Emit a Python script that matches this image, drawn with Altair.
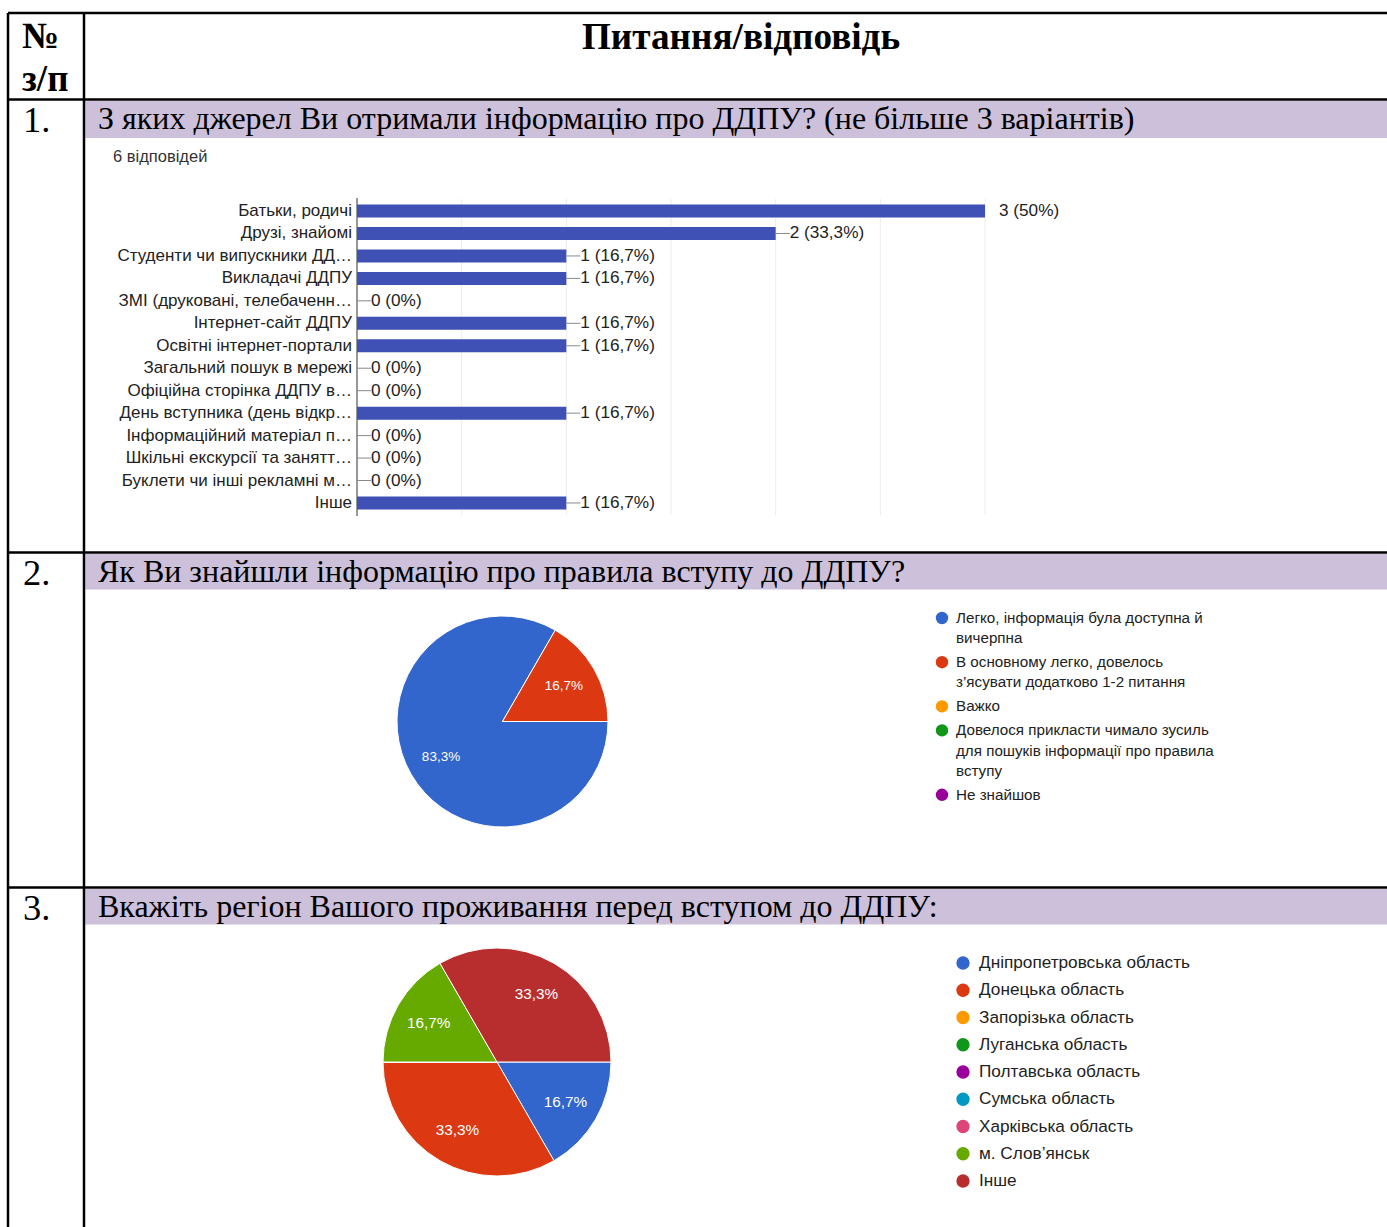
import math
import altair as alt
import pandas as pd

W, H = 1387, 1227

# ---------------- data ----------------
header_no = ["№", "з/п"]
header_title = "Питання/відповідь"
row_numbers = ["1.", "2.", "3."]
questions = [
    "З яких джерел Ви отримали інформацію про ДДПУ? (не більше 3 варіантів)",
    "Як Ви знайшли інформацію про правила вступу до ДДПУ?",
    "Вкажіть регіон Вашого проживання перед вступом до ДДПУ:",
]
q1_responses = "6 відповідей"
q1_labels = [
    "Батьки, родичі",
    "Друзі, знайомі",
    "Студенти чи випускники ДД…",
    "Викладачі ДДПУ",
    "ЗМІ (друковані, телебаченн…",
    "Інтернет-сайт ДДПУ",
    "Освітні інтернет-портали",
    "Загальний пошук в мережі",
    "Офіційна сторінка ДДПУ в…",
    "День вступника (день відкр…",
    "Інформаційний матеріал п…",
    "Шкільні екскурсії та занятт…",
    "Буклети чи інші рекламні м…",
    "Інше",
]
q1_counts = [3, 2, 1, 1, 0, 1, 1, 0, 0, 1, 0, 0, 0, 1]
q1_pcts = ["50%", "33,3%", "16,7%", "16,7%", "0%", "16,7%", "16,7%",
           "0%", "0%", "16,7%", "0%", "0%", "0%", "16,7%"]
q1_max = 3

q2_labels = [
    "Легко, інформація була доступна й\nвичерпна",
    "В основному легко, довелось\nз’ясувати додатково 1-2 питання",
    "Важко",
    "Довелося прикласти чимало зусиль\nдля пошуків інформації про правила\nвступу",
    "Не знайшов",
]
q2_counts = [5, 1, 0, 0, 0]
q2_pct = ["83,3%", "16,7%", "", "", ""]
q2_colors = ["#3366cc", "#dc3912", "#ff9900", "#109618", "#990099"]

q3_labels = [
    "Дніпропетровська область",
    "Донецька область",
    "Запорізька область",
    "Луганська область",
    "Полтавська область",
    "Сумська область",
    "Харківська область",
    "м. Слов’янськ",
    "Інше",
]
q3_counts = [1, 2, 0, 0, 0, 0, 0, 1, 2]
q3_pct = ["16,7%", "33,3%", "", "", "", "", "", "16,7%", "33,3%"]
q3_colors = ["#3366cc", "#dc3912", "#ff9900", "#109618", "#990099",
             "#0099c6", "#dd4477", "#66aa00", "#b82e2e"]

# ---------------- layout constants ----------------
LEFT, COL, TOP = 8, 84, 13
ROW_LINES = [99.5, 552.5, 887.5]
BANDS = [(101, 138), (554, 589.5), (889, 924.5)]
SERIF = "Liberation Serif"
SANS = "Liberation Sans"

cx = alt.Scale(domain=[0, W], range=[0, W], nice=False, zero=False)
cy = alt.Scale(domain=[0, H], range=[0, H], nice=False, zero=False)


def X(f):
    return alt.X(f, type="quantitative", scale=cx, axis=None)


def Y(f):
    return alt.Y(f, type="quantitative", scale=cy, axis=None)


# table
lines_df = pd.DataFrame(
    [dict(x=LEFT, y=TOP, x2=W, y2=TOP)]
    + [dict(x=LEFT, y=r, x2=W, y2=r) for r in ROW_LINES]
    + [dict(x=LEFT, y=TOP, x2=LEFT, y2=H), dict(x=COL, y=TOP, x2=COL, y2=H)]
)
bands_df = pd.DataFrame([dict(x=COL + 1.3, x2=W, y=a, y2=b) for a, b in BANDS])

bands = alt.Chart(bands_df).mark_rect(color="#ccc0da").encode(
    x=X("x"), x2="x2", y=Y("y"), y2="y2")
rules = alt.Chart(lines_df).mark_rule(color="black", strokeWidth=2.5).encode(
    x=X("x"), x2="x2", y=Y("y"), y2="y2")

hdr_df = pd.DataFrame(dict(t=header_no, x=[22, 22], y=[48, 91]))
hdr = alt.Chart(hdr_df).mark_text(font=SERIF, fontSize=37, fontWeight="bold",
                                  align="left", baseline="alphabetic", color="black").encode(
    x=X("x"), y=Y("y"), text="t:N")
ttl_df = pd.DataFrame(dict(t=[header_title], x=[741], y=[49]))
ttl = alt.Chart(ttl_df).mark_text(font=SERIF, fontSize=37.2, fontWeight="bold",
                                  align="center", baseline="alphabetic", color="black").encode(
    x=X("x"), y=Y("y"), text="t:N")

num_df = pd.DataFrame(dict(t=row_numbers, x=[23] * 3, y=[b[0] + 31 for b in BANDS]))
nums = alt.Chart(num_df).mark_text(font=SERIF, fontSize=36.5, align="left",
                                   baseline="alphabetic", color="black").encode(
    x=X("x"), y=Y("y"), text="t:N")
q_df = pd.DataFrame(dict(t=questions, x=[98] * 3, y=[b[0] + 28 for b in BANDS]))
qs = alt.Chart(q_df).mark_text(font=SERIF, fontSize=32, align="left",
                               baseline="alphabetic", color="black").encode(
    x=X("x"), y=Y("y"), text="t:N")

resp_df = pd.DataFrame(dict(t=[q1_responses], x=[113], y=[157]))
resp = alt.Chart(resp_df).mark_text(font=SANS, fontSize=16.5, align="left",
                                    baseline="middle", color="#333333").encode(
    x=X("x"), y=Y("y"), text="t:N")

# ---------------- bar chart (Q1) ----------------
bx = alt.Scale(domain=[0, q1_max], range=[357, 985], nice=False, zero=False)
by = alt.Scale(type="band", domain=q1_labels, range=[199.8, 514.2],
               paddingInner=0.42, paddingOuter=0.21)

q1 = pd.DataFrame(dict(label=q1_labels, count=q1_counts, pct=q1_pcts))
q1["vtext"] = [f"{c} ({p})" for c, p in zip(q1_counts, q1_pcts)]
q1["leader"] = [1 if c < q1_max else 0 for c in q1_counts]

grid_df = pd.DataFrame(dict(v=[i * 0.5 for i in range(1, 2 * q1_max + 1)]))
grid = alt.Chart(grid_df).mark_rule(color="#ececec", strokeWidth=1).encode(
    x=alt.X("v:Q", scale=bx, axis=None), y=alt.value(199), y2=alt.value(515))
axis_df = pd.DataFrame(dict(v=[0]))
axis0 = alt.Chart(axis_df).mark_rule(color="#333333", strokeWidth=1).encode(
    x=alt.X("v:Q", scale=bx, axis=None), y=alt.value(198), y2=alt.value(516))

bars = alt.Chart(q1).mark_bar(color="#3f51b5").encode(
    x=alt.X("count:Q", scale=bx, axis=None),
    y=alt.Y("label:N", scale=by, axis=None, sort=None))
leaders = alt.Chart(q1).transform_filter("datum.leader == 1").mark_rule(
    color="#8a8a8a", strokeWidth=1, x2Offset=14).encode(
    x=alt.X("count:Q", scale=bx, axis=None), x2=alt.X2("count"),
    y=alt.Y("label:N", scale=by, axis=None, sort=None))
vtexts = alt.Chart(q1).mark_text(font=SANS, fontSize=17.2, align="left", dx=14,
                                 baseline="middle", color="#222222").encode(
    x=alt.X("count:Q", scale=bx, axis=None),
    y=alt.Y("label:N", scale=by, axis=None, sort=None), text="vtext:N")
cats = alt.Chart(q1).mark_text(font=SANS, fontSize=17, align="right",
                               baseline="middle", color="#222222").encode(
    x=alt.value(352), y=alt.Y("label:N", scale=by, axis=None, sort=None), text="label:N")


# ---------------- pies ----------------
def pie_layers(labels, counts, pcts, colors, cxp, cyp, r, lr, lfs,
               leg_x, text_dx, leg_y0, line_h, gap, leg_fs, dot):
    df = pd.DataFrame(dict(label=labels, count=counts, pct=pcts, idx=range(len(labels))))
    total = sum(counts)
    th = alt.Scale(domain=[0, total], range=[math.pi / 2, math.pi / 2 + 2 * math.pi],
                   nice=False, zero=True)
    col = alt.Scale(domain=labels, range=colors)
    arcs = alt.Chart(df).mark_arc(radius=r, stroke="white", strokeWidth=1).encode(
        theta=alt.Theta("count:Q", stack=True, scale=th),
        color=alt.Color("label:N", scale=col, legend=None),
        order=alt.Order("idx:Q"),
        x=alt.value(cxp), y=alt.value(cyp))
    lbl = alt.Chart(df).transform_filter("datum.count > 0").mark_text(
        radius=lr, font=SANS, fontSize=lfs, color="white").encode(
        theta=alt.Theta("count:Q", stack=True, scale=th),
        order=alt.Order("idx:Q"), text="pct:N",
        x=alt.value(cxp), y=alt.value(cyp))
    # legend: one row per text line
    rows, dots = [], []
    nline = 0
    for i, lab in enumerate(labels):
        parts = lab.split("\n")
        for j, p in enumerate(parts):
            yy = leg_y0 + (nline + j) * line_h + i * gap
            rows.append(dict(t=p, x=leg_x + text_dx, y=yy))
            if j == 0:
                dots.append(dict(label=lab, x=leg_x, y=yy))
        nline += len(parts)
    dots_df = pd.DataFrame(dots)
    rows_df = pd.DataFrame(rows)
    ldots = alt.Chart(dots_df).mark_circle(size=dot, opacity=1).encode(
        x=X("x"), y=Y("y"), color=alt.Color("label:N", scale=col, legend=None))
    ltext = alt.Chart(rows_df).mark_text(font=SANS, fontSize=leg_fs, align="left",
                                         baseline="middle", color="#222222").encode(
        x=X("x"), y=Y("y"), text="t:N")
    return [arcs, lbl, ldots, ltext]


pie2 = pie_layers(q2_labels, q2_counts, q2_pct, q2_colors, 502.5, 721.5, 105.5, 71, 13.5,
                  942, 14, 618, 20.2, 3.8, 15.2, 154)
pie3 = pie_layers(q3_labels, q3_counts, q3_pct, q3_colors, 497, 1062, 114, 79, 15.3,
                  963, 16, 963, 27.25, 0, 17.2, 177)

layers = [bands, rules, hdr, ttl, nums, qs, resp,
          grid, axis0, bars, leaders, vtexts, cats] + pie2 + pie3

chart = alt.layer(*layers).properties(
    width=W, height=H, padding=0,
    autosize=alt.AutoSizeParams(type="none"),
    background="white",
).resolve_scale(
    x="independent", y="independent", theta="independent", color="independent"
).configure_view(stroke=None)

chart.save("out.html", embed_options={"renderer": "svg", "actions": False})
